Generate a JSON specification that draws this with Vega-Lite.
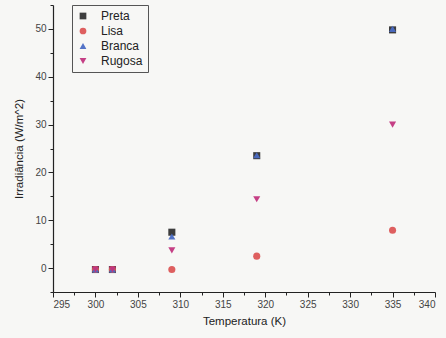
{
  "$schema": "https://vega.github.io/schema/vega-lite/v6.json",
  "width": 382,
  "height": 287,
  "autosize": "none",
  "padding": {"left": 53, "top": 5, "right": 11, "bottom": 46},
  "background": "#f7f7f5",
  "config": {
    "view": {"stroke": null},
    "font": "Liberation Sans",
    "axis": {"grid": false, "domainColor": "#222", "tickColor": "#222", "labelColor": "#444", "titleColor": "#222", "labelFontSize": 10, "titleFontSize": 11.5, "titleFontWeight": "normal", "domainWidth": 1.2}
  },
  "data": {
    "values": [
      {"T": 300, "I": -0.3, "s": "Preta"},
      {"T": 302, "I": -0.3, "s": "Preta"},
      {"T": 309, "I": 7.5, "s": "Preta"},
      {"T": 319, "I": 23.5, "s": "Preta"},
      {"T": 335, "I": 49.8, "s": "Preta"},
      {"T": 300, "I": -0.3, "s": "Lisa"},
      {"T": 302, "I": -0.3, "s": "Lisa"},
      {"T": 309, "I": -0.3, "s": "Lisa"},
      {"T": 319, "I": 2.5, "s": "Lisa"},
      {"T": 335, "I": 7.9, "s": "Lisa"},
      {"T": 300, "I": -0.3, "s": "Branca"},
      {"T": 302, "I": -0.3, "s": "Branca"},
      {"T": 309, "I": 6.6, "s": "Branca"},
      {"T": 319, "I": 23.6, "s": "Branca"},
      {"T": 335, "I": 50.0, "s": "Branca"},
      {"T": 300, "I": -0.3, "s": "Rugosa"},
      {"T": 302, "I": -0.3, "s": "Rugosa"},
      {"T": 309, "I": 3.7, "s": "Rugosa"},
      {"T": 319, "I": 14.4, "s": "Rugosa"},
      {"T": 335, "I": 30.0, "s": "Rugosa"}
    ]
  },
  "mark": {"type": "point", "filled": true, "opacity": 0.95, "size": 50},
  "encoding": {
    "x": {
      "field": "T", "type": "quantitative",
      "scale": {"domain": [295, 340], "nice": false, "zero": false},
      "axis": {
        "title": "Temperatura (K)",
        "titlePadding": 6,
        "values": [295, 297.5, 300, 302.5, 305, 307.5, 310, 312.5, 315, 317.5, 320, 322.5, 325, 327.5, 330, 332.5, 335, 337.5, 340],
        "labelExpr": "datum.value % 5 === 0 ? datum.label : ''",
        "tickSize": {"condition": {"test": "datum.value % 5 !== 0", "value": 3}, "value": 5},
        "labelPadding": 2
      }
    },
    "y": {
      "field": "I", "type": "quantitative",
      "scale": {"domain": [-5, 55], "nice": false, "zero": false},
      "axis": {
        "title": "Irradiância (W/m^2)",
        "titlePadding": 10,
        "values": [-5, 0, 5, 10, 15, 20, 25, 30, 35, 40, 45, 50, 55],
        "labelExpr": "datum.value % 10 === 0 ? datum.label : ''",
        "tickSize": {"condition": {"test": "datum.value % 10 !== 0", "value": 3}, "value": 5}
      }
    },
    "color": {
      "field": "s", "type": "nominal",
      "scale": {"domain": ["Preta", "Lisa", "Branca", "Rugosa"], "range": ["#333333", "#dc5656", "#4a6cc4", "#c2357e"]},
      "legend": {"title": null, "orient": "none", "legendX": 19, "legendY": 0, "strokeColor": "#555", "padding": 5, "labelFontSize": 12, "labelColor": "#222", "rowPadding": 3, "symbolSize": 45, "labelOffset": 12}
    },
    "shape": {
      "field": "s", "type": "nominal",
      "scale": {"domain": ["Preta", "Lisa", "Branca", "Rugosa"], "range": ["square", "circle", "triangle-up", "triangle-down"]},
      "legend": null
    }
  }
}
